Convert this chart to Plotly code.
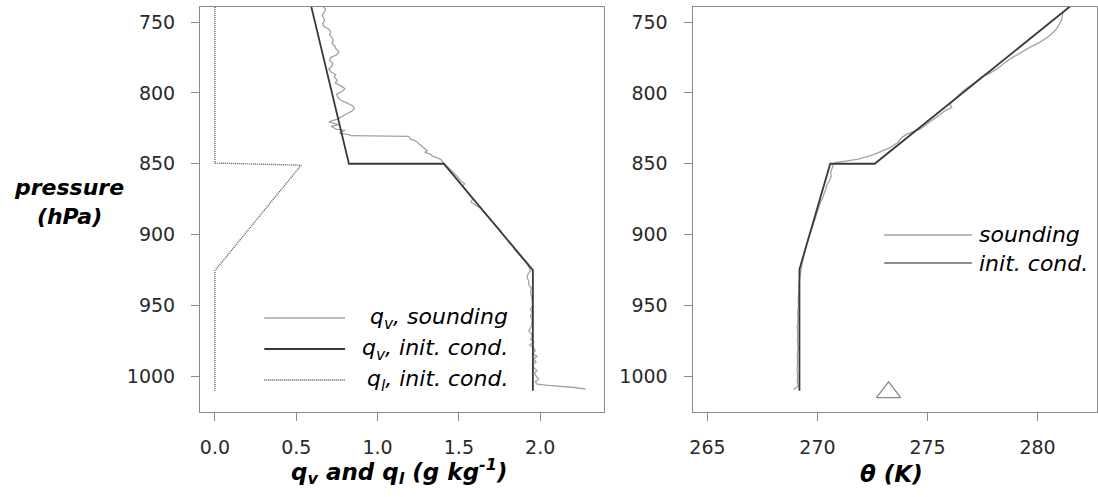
import plotly.graph_objects as go

# ---------------- data ----------------
# left panel: water vapour sounding (q_v, g/kg) vs pressure (hPa)
qv_sounding_p = [738.5, 741, 743, 745, 747, 749, 751, 753, 755, 757, 759, 761, 763, 765, 767, 769,
                 771, 773, 775, 777, 779, 781, 783, 785, 787, 789, 791, 793, 795, 797, 799, 801,
                 803, 805, 807, 809, 811, 813, 815, 817, 818.5, 819.5, 820.5, 821.5, 822.5, 823.5,
                 824.5, 825.5, 826.5, 827.5, 828.5, 829.5, 830.2, 830.6, 832.6, 833.8, 836.1, 838.5,
                 840.8, 842.0, 843.2, 844.4, 845.5, 846.7, 849.8, 853, 856, 859, 862, 864, 866, 869,
                 872, 875, 877, 879, 882, 885, 888, 891, 894, 897, 900, 903, 906, 908, 911, 914, 917,
                 920, 923, 925.6, 928, 930, 933, 935, 938, 941, 944, 947, 950, 953, 955, 958, 960,
                 962, 965, 968, 970, 972, 974, 976, 978, 980, 982, 984, 986, 988, 990, 992, 994, 996,
                 998, 1000, 1002, 1004, 1005.6, 1006.5, 1007.3, 1008.0, 1009.2]
qv_sounding_q = [0.665, 0.68, 0.672, 0.66, 0.668, 0.675, 0.662, 0.67, 0.70, 0.712, 0.705, 0.722, 0.728,
                 0.72, 0.738, 0.745, 0.762, 0.75, 0.712, 0.705, 0.725, 0.72, 0.70, 0.712, 0.742, 0.735,
                 0.752, 0.74, 0.775, 0.80, 0.78, 0.748, 0.755, 0.772, 0.81, 0.845, 0.858, 0.84, 0.805,
                 0.78, 0.755, 0.72, 0.70, 0.735, 0.76, 0.715, 0.73, 0.745, 0.80, 0.78, 0.765, 0.825,
                 0.835, 1.192, 1.202, 1.233, 1.257, 1.284, 1.305, 1.29, 1.325, 1.335, 1.366, 1.386,
                 1.41, 1.44, 1.465, 1.49, 1.51, 1.535, 1.525, 1.545, 1.565, 1.585, 1.575, 1.60, 1.64,
                 1.66, 1.685, 1.705, 1.73, 1.755, 1.77, 1.795, 1.81, 1.83, 1.845, 1.87, 1.895, 1.915,
                 1.93, 1.94, 1.925, 1.918, 1.93, 1.929, 1.945, 1.94, 1.948, 1.95, 1.953, 1.94, 1.952,
                 1.94, 1.95, 1.95, 1.945, 1.93, 1.945, 1.95, 1.94, 1.96, 1.935, 1.96, 1.97, 1.952,
                 1.98, 1.96, 1.975, 1.953, 1.96, 1.98, 1.965, 1.975, 1.99, 1.97, 1.98, 2.05, 2.15,
                 2.21, 2.28]

# left panel: initial condition profiles
qv_init_p = [735, 850, 850, 925.1, 1010.3]
qv_init_q = [0.584, 0.824, 1.407, 1.955, 1.955]
ql_init_p = [735, 849.5, 851, 925.5, 1010.3]
ql_init_q = [0.0, 0.0, 0.53, 0.0, 0.0]

# right panel: potential temperature (K) vs pressure (hPa)
theta_sounding_p = [738.4, 743.1, 749.0, 754.9, 759.6, 764.3, 767.8, 771.4, 773.7, 776.1, 779.6,
                    783.2, 786.7, 788.4, 792.6, 795.0, 798.5, 803.2, 807.9, 810.3, 812.6, 816.2,
                    818.5, 822.1, 825.6, 827.5, 829.1, 831.5, 835.0, 838.6, 841.0, 843.5, 846.7,
                    847.9, 849.1, 850.5, 853, 856, 859, 862, 865, 868, 871, 874, 877, 880, 883,
                    886, 889, 892, 895, 898, 901, 904, 907, 910, 913, 916, 919, 922, 925, 930,
                    935, 940, 945, 950, 955, 960, 965, 970, 975, 980, 985, 990, 995, 1000, 1004,
                    1007, 1008.5, 1009.5]
theta_sounding = [281.46, 281.16, 281.08, 280.86, 280.55, 280.10, 279.65, 279.27, 279.04, 278.74,
                  278.44, 278.14, 277.76, 277.46, 277.15, 276.93, 276.62, 276.32, 276.02, 276.10,
                  275.79, 275.49, 275.26, 274.96, 274.66, 274.36, 274.06, 273.83, 273.65, 273.30,
                  272.95, 272.55, 271.86, 271.34, 270.81, 270.72, 270.66, 270.60, 270.62, 270.55,
                  270.42, 270.38, 270.30, 270.24, 270.14, 270.08, 270.02, 269.95, 269.88, 269.82,
                  269.77, 269.70, 269.64, 269.57, 269.50, 269.45, 269.40, 269.36, 269.32, 269.28,
                  269.25, 269.20, 269.15, 269.16, 269.12, 269.14, 269.10, 269.12, 269.08, 269.10,
                  269.09, 269.12, 269.08, 269.10, 269.07, 269.10, 269.08, 269.12, 269.00, 268.92]
theta_init_p = [735, 850, 850, 924.5, 1010.3]
theta_init = [281.79, 272.60, 270.58, 269.18, 269.18]

# surface marker (triangle)
sst_theta = [273.23]
sst_p = [1011.4]

# axes
p_range = [1025.3, 739.3]
p_ticks = [750, 800, 850, 900, 950, 1000]
q_ticks = [0.0, 0.5, 1.0, 1.5, 2.0]
q_ticklabels = ["0.0", "0.5", "1.0", "1.5", "2.0"]
theta_ticks = [265, 270, 275, 280]

legend_left = ["q<sub>v</sub>, sounding", "q<sub>v</sub>, init. cond.", "q<sub>l</sub>, init. cond."]
legend_right = ["sounding", "init. cond."]

# ---------------- style ----------------
FONT = "DejaVu Sans"
C_SOUND = "#a3a3a3"
C_INIT = "#3a3a3a"
C_QL = "#5a5a5a"
C_AXIS = "#8a8a8a"
C_TICK = "#2a2a2a"
W, H = 1098, 497

fig = go.Figure()

fig.add_trace(go.Scatter(x=ql_init_q, y=ql_init_p, mode="lines", xaxis="x", yaxis="y",
                         line=dict(color=C_QL, width=1.4, dash="1px,1px"), showlegend=False))
fig.add_trace(go.Scatter(x=qv_sounding_q, y=qv_sounding_p, mode="lines", xaxis="x", yaxis="y",
                         line=dict(color=C_SOUND, width=1.3), showlegend=False))
fig.add_trace(go.Scatter(x=qv_init_q, y=qv_init_p, mode="lines", xaxis="x", yaxis="y",
                         line=dict(color=C_INIT, width=1.8), showlegend=False))

fig.add_trace(go.Scatter(x=theta_sounding, y=theta_sounding_p, mode="lines", xaxis="x2", yaxis="y2",
                         line=dict(color=C_SOUND, width=1.3), showlegend=False))
fig.add_trace(go.Scatter(x=theta_init, y=theta_init_p, mode="lines", xaxis="x2", yaxis="y2",
                         line=dict(color=C_INIT, width=1.8), showlegend=False))
fig.add_trace(go.Scatter(x=sst_theta, y=sst_p, mode="markers", xaxis="x2", yaxis="y2",
                         marker=dict(symbol="triangle-up-open", size=21, color="#8a8a8a",
                                     line=dict(width=1.3, color="#8a8a8a")),
                         showlegend=False))

axis_common = dict(showline=True, mirror=True, linecolor=C_AXIS, linewidth=1,
                   ticks="outside", ticklen=8, tickcolor=C_AXIS, tickwidth=1,
                   showgrid=False, zeroline=False,
                   tickfont=dict(family=FONT, size=19, color=C_TICK))

fig.update_layout(
    width=W, height=H,
    margin=dict(l=0, r=0, t=7, b=85),
    paper_bgcolor="white", plot_bgcolor="white",
    showlegend=False,
    xaxis=dict(domain=[197.5 / W, 602.6 / W], range=[-0.092, 2.392],
               tickvals=q_ticks, ticktext=q_ticklabels, ticklabelstandoff=10, **axis_common),
    yaxis=dict(domain=[0, 1], range=p_range, tickvals=p_ticks, ticklabelstandoff=12,
               anchor="x", **axis_common),
    xaxis2=dict(domain=[691.4 / W, 1096.5 / W], range=[264.32, 282.68],
                tickvals=theta_ticks, ticklabelstandoff=10, anchor="y2", **axis_common),
    yaxis2=dict(domain=[0, 1], range=p_range, tickvals=p_ticks, ticklabelstandoff=12,
                anchor="x2", **axis_common),
)

def py(Y):
    return (412 - Y) / 405.0

annotations = []
shapes = []

# axis titles
annotations.append(dict(text="<b><i>pressure<br>(hPa)</i></b>", x=66 / W, y=py(202), xref="paper",
                        yref="paper", showarrow=False, xanchor="center", yanchor="middle",
                        font=dict(family=FONT, size=22, color="black"), align="center"))
annotations.append(dict(text="<b><i>q<sub>v</sub> and q<sub>l</sub> (g kg<sup>-1</sup>)</i></b>",
                        x=398 / W, y=py(471), xref="paper", yref="paper", showarrow=False,
                        xanchor="center", yanchor="middle",
                        font=dict(family=FONT, size=23, color="black")))
annotations.append(dict(text="<b><i>θ (K)</i></b>", x=891 / W, y=py(474), xref="paper",
                        yref="paper", showarrow=False, xanchor="center", yanchor="middle",
                        font=dict(family=FONT, size=23, color="black")))

# left legend
left_rows = [318, 349, 380]
left_styles = [dict(color=C_SOUND, width=1.3), dict(color=C_INIT, width=1.8),
               dict(color=C_QL, width=1.4, dash="1px,1px")]
for Y, lab, st in zip(left_rows, legend_left, left_styles):
    shapes.append(dict(type="line", xref="paper", yref="paper", x0=262 / W, x1=343 / W,
                       y0=py(Y), y1=py(Y), line=st))
    annotations.append(dict(text="<i>" + lab + "</i>", x=508 / W, y=py(Y), xref="paper",
                            yref="paper", showarrow=False, xanchor="right", yanchor="middle",
                            font=dict(family=FONT, size=22, color="black")))

# right legend
right_rows = [235, 263]
right_styles = [dict(color=C_SOUND, width=1.3), dict(color="#6a6a6a", width=1.6)]
for Y, lab, st in zip(right_rows, legend_right, right_styles):
    shapes.append(dict(type="line", xref="paper", yref="paper", x0=883.6 / W, x1=971.8 / W,
                       y0=py(Y), y1=py(Y), line=st))
    annotations.append(dict(text="<i>" + lab + "</i>", x=977 / W, y=py(Y), xref="paper",
                            yref="paper", showarrow=False, xanchor="left", yanchor="middle",
                            font=dict(family=FONT, size=22, color="black")))

fig.update_layout(annotations=annotations, shapes=shapes)

# remove the browser's default page margin so the figure sits at the window's origin
fig.write_html("out.html",
               config={"displayModeBar": False},
               post_script="document.body.style.margin='0';document.body.style.padding='0';"
                           "document.documentElement.style.overflow='hidden';")
